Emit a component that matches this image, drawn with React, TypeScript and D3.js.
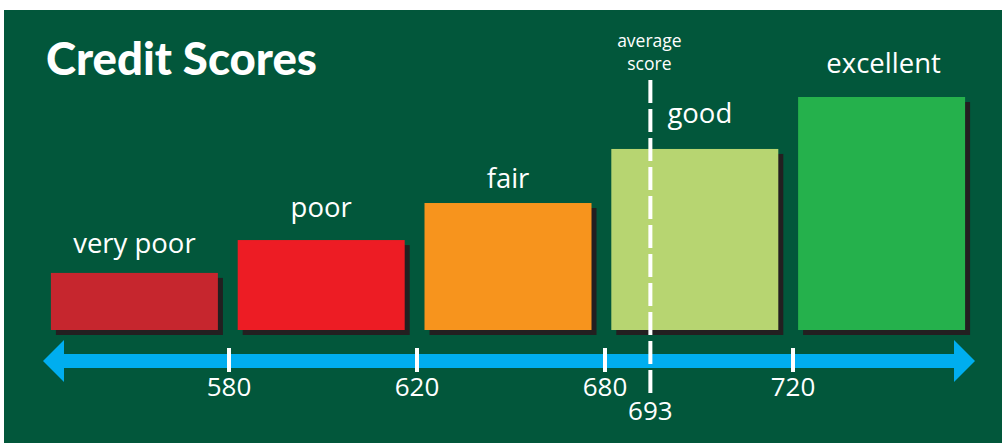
import React from "react";
import * as d3 from "d3";

const categories = ["very poor", "poor", "fair", "good", "excellent"];
const barHeights = [24.5, 38.6, 54.5, 77.7, 100];
const barColors = ["#c6262e", "#ed1c24", "#f7941d", "#b7d571", "#25b14c"];
const tickLabels = ["580", "620", "680", "720"];
const averageScore = "693";
const averageLabel = ["average", "score"];
const title = "Credit Scores";

const W = 1002;
const H = 443;
const BG = "#02573b";
const AXIS = "#00aeef";
const SHADOW = "#231f20";
const FONT = "'Open Sans', 'Noto Sans', sans-serif";

export default function App() {
  const x = d3.scaleBand<string>().domain(categories).range([41, 975]).paddingInner(0.106).paddingOuter(0.053);
  const y = d3.scaleLinear().domain([0, 100]).range([330, 97]);
  const bw = x.bandwidth();
  const tx = d3.scalePoint<string>().domain(tickLabels).range([229, 793]);
  const avgX = (x("good") as number) + bw * 0.234;
  const axisY = 361;
  const x0 = x.range()[0] + 2;
  const x1 = x.range()[1];
  const labelDx = [0, 0, 0, 5, 2];
  const labelDy = [20, 23, 15, 26, 24];

  return (
    <svg width={W} height={H} style={{ position: "absolute", left: 0, top: 0 }} fontFamily={FONT}>
      <rect x={0} y={0} width={W} height={H} fill="#fff" />
      <rect x={4} y={10} width={W - 4} height={H - 10} fill={BG} />
      <text x={46} y={75} fill="#fff" fontFamily="Lato, 'Open Sans', sans-serif" fontWeight={900} fontSize={45} textLength={271} lengthAdjust="spacingAndGlyphs">
        {title}
      </text>
      {categories.map((c, i) => (
        <g key={c}>
          <rect x={(x(c) as number) + 5} y={y(barHeights[i]) + 5} width={bw} height={y(0) - y(barHeights[i])} fill={SHADOW} />
          <rect x={x(c) as number} y={y(barHeights[i])} width={bw} height={y(0) - y(barHeights[i])} fill={barColors[i]} />
          <text x={(x(c) as number) + bw / 2 + labelDx[i]} y={y(barHeights[i]) - labelDy[i]} fill="#fff" fontSize={27.5} textAnchor="middle">
            {c}
          </text>
        </g>
      ))}
      {/* axis */}
      <rect x={x0 + 21} y={axisY - 7} width={x1 - x0 - 42} height={14} fill={AXIS} />
      <path d={`M${x0},${axisY} L${x0 + 21},${axisY - 21} L${x0 + 21},${axisY + 21} Z`} fill={AXIS} />
      <path d={`M${x1},${axisY} L${x1 - 21},${axisY - 21} L${x1 - 21},${axisY + 21} Z`} fill={AXIS} />
      {tickLabels.map((t) => (
        <g key={t}>
          <rect x={(tx(t) as number) - 2} y={348} width={4} height={24} fill="#fff" />
          <text x={tx(t) as number} y={396} fill="#fff" fontSize={26} textAnchor="middle">
            {t}
          </text>
        </g>
      ))}
      {/* average line */}
      <line x1={avgX} x2={avgX} y1={80} y2={395} stroke="#fff" strokeWidth={4} strokeDasharray="23 6" />
      <text x={avgX} y={420} fill="#fff" fontSize={26} textAnchor="middle">
        {averageScore}
      </text>
      <text x={avgX - 1} y={47} fill="#fff" fontSize={17.5} textAnchor="middle">
        {averageLabel[0]}
      </text>
      <text x={avgX - 1} y={70} fill="#fff" fontSize={17.5} textAnchor="middle">
        {averageLabel[1]}
      </text>
    </svg>
  );
}
